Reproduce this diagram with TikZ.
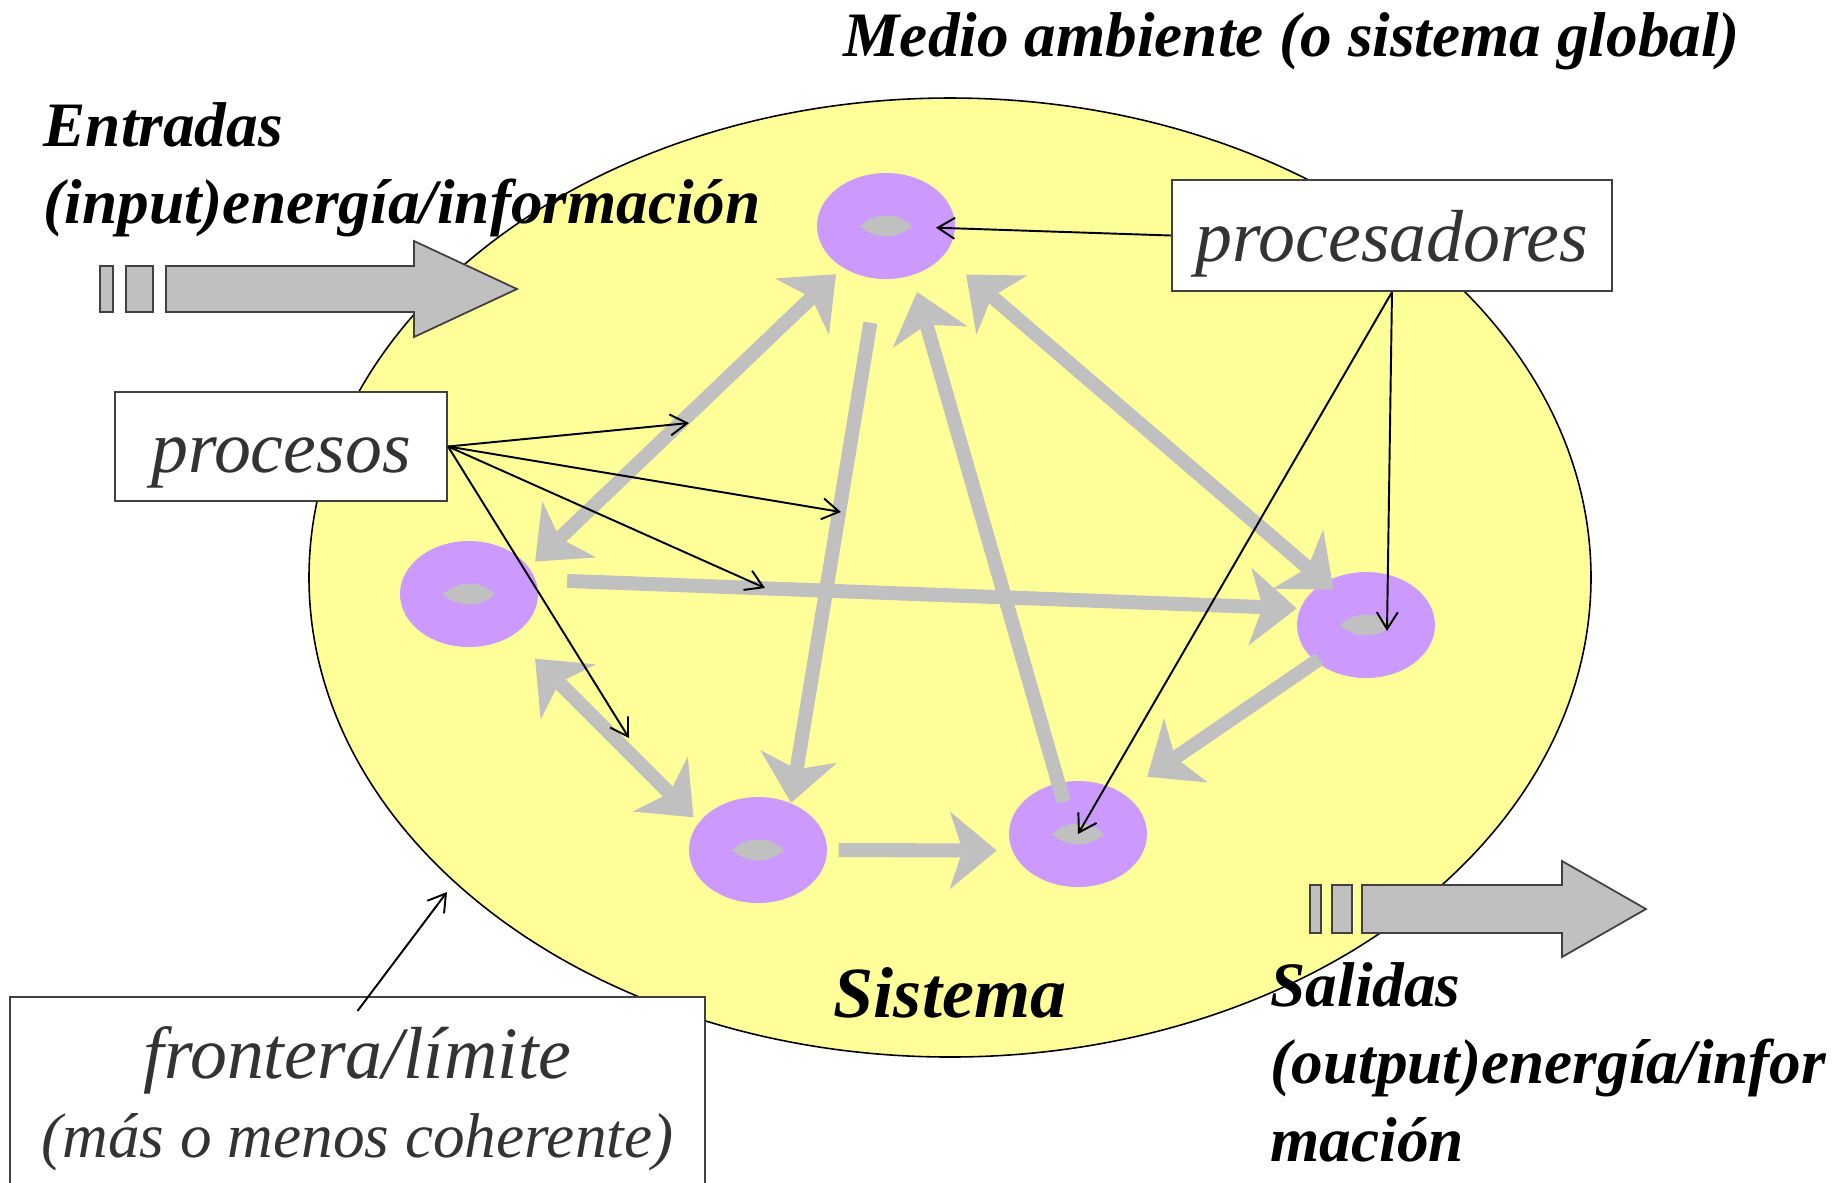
\documentclass[tikz,border=0pt]{standalone}
\usepackage{fontspec}
\setmainfont{Liberation Serif}
\usepackage{xcolor}
\usepackage{tikz}
\usetikzlibrary{shapes,arrows.meta,calc}
\definecolor{Amarillo}{RGB}{255, 255, 153}
\definecolor{Lila}{RGB}{204, 153, 255}
\definecolor{GrisFlecha}{RGB}{192, 192, 192}
\definecolor{GrisTexto}{RGB}{51, 51, 51}
\definecolor{GrisBorde}{RGB}{64, 64, 64}
\tikzstyle{elipse} = [ellipse, draw=black, fill=Amarillo, line width=0.45pt, minimum width=12.82cm, minimum height=9.59cm, inner sep=0pt]
\tikzstyle{nucleo} = [ellipse, fill=Lila, minimum width=1.38cm, minimum height=1.06cm, inner sep=0pt, path picture={\fill[GrisFlecha] ([xshift=-2.6mm]path picture bounding box.center) arc[start angle=134, end angle=46, radius=3.74mm] arc[start angle=-46, end angle=-134, radius=3.74mm];}]
\tikzstyle{flujo} = [draw=GrisFlecha, line width=4pt, >={Stealth[length=4.7mm, width=7.8mm, inset=1.3mm, line width=0pt]}]
\tikzstyle{senal} = [draw=black, line width=0.55pt, ->, >={Straight Barb[length=1.7mm, width=2.1mm]}]
\tikzstyle{caja} = [rectangle, draw=GrisBorde, fill=white, line width=0.6pt, text=GrisTexto, inner sep=0pt, font=\fontsize{21}{22.5}\selectfont\itshape]
\tikzstyle{titulo} = [inner sep=0pt, font=\fontsize{18}{22}\selectfont\bfseries\itshape, align=left]
\tikzstyle{bloque} = [fill=GrisFlecha, draw=GrisBorde, line width=0.5pt]

\begin{document}
\begin{tikzpicture}

\useasboundingbox (0,0) rectangle (18.41,-11.82);

% Sistema
\node (sistema) [elipse] at (9.50,-5.775) {};
\node (medio) [titulo, anchor=base west] at (8.43,-0.56) {Medio ambiente (o sistema global)};
\node (nombre) [titulo, font=\fontsize{20.5}{24}\selectfont\bfseries\itshape, anchor=base] at (9.50,-10.17) {Sistema};

% Entradas
\filldraw [bloque] (1.00,-2.66) rectangle (1.13,-3.12);
\filldraw [bloque] (1.26,-2.66) rectangle (1.53,-3.12);
\filldraw [bloque] (1.66,-2.66) -- (4.14,-2.66) -- (4.14,-2.41) -- (5.17,-2.89) -- (4.14,-3.37) -- (4.14,-3.12) -- (1.66,-3.12) -- cycle;
\node (entradas) [titulo, anchor=north west] at (0.43,-1.02) {Entradas\\(input)energía/información};

% Salidas
\filldraw [bloque] (13.10,-8.85) rectangle (13.21,-9.33);
\filldraw [bloque] (13.32,-8.85) rectangle (13.52,-9.33);
\filldraw [bloque] (13.62,-8.85) -- (15.62,-8.85) -- (15.62,-8.61) -- (16.46,-9.09) -- (15.62,-9.57) -- (15.62,-9.33) -- (13.62,-9.33) -- cycle;
\node (salidas) [titulo, anchor=north west] at (12.70,-9.62) {Salidas\\(output)energía/infor\\mación};

% Procesadores
\node (arriba) [nucleo] at (8.86,-2.26) {};
\node (izq) [nucleo] at (4.69,-5.94) {};
\node (abizq) [nucleo] at (7.58,-8.50) {};
\node (abder) [nucleo] at (10.78,-8.34) {};
\node (der) [nucleo] at (13.66,-6.25) {};

% Procesos
\draw [flujo, <->, shorten <=0.9mm, shorten >=0.8mm] (arriba.-136) -- (izq.24);
\draw [flujo, ->, shorten <=4.4mm] (arriba.-99) -- (abizq.55);
\draw [flujo, ->, shorten <=-2mm, shorten >=1.7mm] (abder.111) -- (arriba.-62);
\draw [flujo, <->, shorten <=2.9mm, shorten >=-1.2mm] (arriba.-27) -- (der.134);
\draw [flujo, ->, shorten <=3.1mm, shorten >=0.3mm] (izq.12) -- (der.166);
\draw [flujo, ->, shorten <=-0.5mm, shorten >=2.9mm] (der.-144) -- (abder.42);
\draw [flujo, ->, shorten <=1.1mm, shorten >=1.5mm] (abizq.east) -- (abder.-166);
\draw [flujo, <->, shorten <=3.2mm, shorten >=0.7mm] (izq.-44) -- (abizq.155);

% Etiquetas
\node (procesadores) [caja, minimum width=4.40cm, minimum height=1.11cm, text height=6mm, text depth=0.8mm] at (13.92,-2.355) {procesadores};
\node (procesos) [caja, minimum width=3.32cm, minimum height=1.09cm, text height=6mm, text depth=0.8mm] at (2.81,-4.465) {procesos};
\node (limite) [caja, minimum width=6.95cm, minimum height=2.04cm, align=center] at (3.575,-10.99) {frontera/límite\\{\fontsize{18}{22.5}\selectfont (más o menos coherente)}};

\coordinate (c1) at (6.89,-4.23);
\coordinate (c2) at (8.41,-5.12);
\coordinate (c3) at (7.65,-5.88);
\coordinate (c4) at (6.29,-7.38);
\coordinate (borde) at (4.47,-8.92);

% Flechas
\draw [senal] (procesos.east) -- (c1);
\draw [senal] (procesos.east) -- (c2);
\draw [senal] (procesos.east) -- (c3);
\draw [senal] (procesos.east) -- (c4);
\draw [senal, shorten >=5mm] (procesadores.west) -- (arriba.center);
\draw [senal] (procesadores.south) -- ([xshift=2.1mm,yshift=-0.6mm]der.center);
\draw [senal] (procesadores.south) -- (abder.center);
\draw [senal] ([yshift=-1.5mm]limite.north) -- (borde);

\end{tikzpicture}
\end{document}
